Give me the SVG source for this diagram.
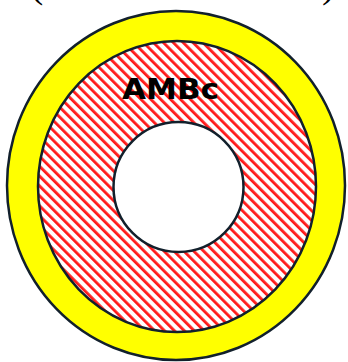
<svg xmlns="http://www.w3.org/2000/svg" width="348" height="362" viewBox="0 0 348 362">
<style>
.edge{stroke:#12202c;stroke-width:2.5}
.lbl{font-family:"DejaVu Sans",sans-serif;font-weight:bold;font-size:28px;fill:#000}
.par{font-family:"Liberation Serif",serif;font-size:40px;fill:#000}
</style>
<defs>
<pattern id="hatch" patternUnits="userSpaceOnUse" width="7" height="7" patternTransform="rotate(-45)">
<rect width="7" height="7" fill="#fff"/>
<rect x="0" y="0" width="2.8" height="7" fill="#ff1a1a"/>
</pattern>
</defs>
<rect width="348" height="362" fill="#fff"/>
<text class="par" x="30" y="-3">(</text>
<text class="par" x="322" y="-3">)</text>
<g id="outer">
<ellipse class="edge" cx="176" cy="185.5" rx="169" ry="174.5" fill="#ffff00"/>
</g>
<g id="middle">
<ellipse class="edge" cx="177" cy="186.5" rx="139" ry="145.5" fill="url(#hatch)"/>
</g>
<g id="inner">
<ellipse class="edge" cx="178.5" cy="187" rx="65" ry="65" fill="#fff"/>
</g>
<text class="lbl" x="122" y="99" textLength="97" lengthAdjust="spacingAndGlyphs">AMBc</text>
</svg>
